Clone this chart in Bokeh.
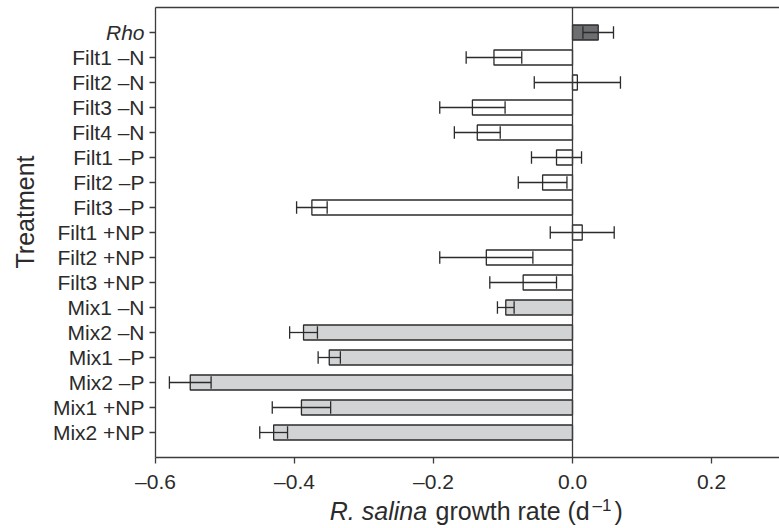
import numpy as np
from bokeh.plotting import figure
from bokeh.models import (ColumnDataSource, Range1d, FixedTicker,
                          CustomJSTickFormatter, Label, LinearAxis)
from bokeh.embed import file_html
from bokeh.resources import INLINE

# ---------------- data ----------------
treatments = ["Rho", "Filt1 \u2013N", "Filt2 \u2013N", "Filt3 \u2013N", "Filt4 \u2013N",
              "Filt1 \u2013P", "Filt2 \u2013P", "Filt3 \u2013P",
              "Filt1 +NP", "Filt2 +NP", "Filt3 +NP",
              "Mix1 \u2013N", "Mix2 \u2013N", "Mix1 \u2013P", "Mix2 \u2013P",
              "Mix1 +NP", "Mix2 +NP"]
growth_rate = [0.037, -0.113, 0.007, -0.144, -0.137, -0.023, -0.043, -0.375,
               0.014, -0.124, -0.071, -0.096, -0.387, -0.350, -0.550, -0.390, -0.430]
std_error = [0.022, 0.040, 0.062, 0.047, 0.033, 0.036, 0.035, 0.022,
             0.046, 0.067, 0.048, 0.012, 0.020, 0.016, 0.030, 0.042, 0.020]
group = ["Rho"] + ["Filt"] * 10 + ["Mix"] * 6
x_ticks = [-0.6, -0.4, -0.2, 0.0, 0.2]
x_min = -0.6

# ---------------- styling / layout ----------------
GROUP_COLORS = {"Rho": "#6d6e71", "Filt": "#ffffff", "Mix": "#d1d3d4"}
INK = "#2b2b2b"
AXIS = "#3c3c3c"
FONT = "Liberation Sans"
TICK_FS = "21px"
TITLE_FS = "25px"
BAR_H = 0.6
CAP = 0.25
LW = 1.3

W, H = 779, 528
AXIS_LEFT_PX, ZERO_PX, TOP_PX, ROW_PX = 155, 572, 7, 25
n = len(treatments)
y_lo, y_hi = -1, n            # data extent of the boxed plot area

PX_PER_X = (ZERO_PX - AXIS_LEFT_PX) / (0 - x_min)
XA = x_min - AXIS_LEFT_PX / PX_PER_X
XB = XA + W / PX_PER_X
YT = y_hi + TOP_PX / ROW_PX
YB = YT - H / ROW_PX


def dx(px):
    return XA + px / PX_PER_X


def dy(py):
    return YT - py / ROW_PX


ypos = [n - 1 - i for i in range(n)]
mean = np.array(growth_rate)
err = np.array(std_error)
src = ColumnDataSource(dict(
    y=ypos, mean=mean, lo=mean - err, hi=mean + err,
    cap0=[v - CAP for v in ypos], cap1=[v + CAP for v in ypos],
    color=[GROUP_COLORS[g] for g in group], name=treatments,
))

p = figure(width=W, height=H, output_backend="svg", toolbar_location=None,
           x_range=Range1d(XA, XB), y_range=Range1d(YB, YT),
           min_border=0, x_axis_location=None, y_axis_location=None)
p.outline_line_color = None
p.grid.visible = False
p.background_fill_color = "white"
p.border_fill_color = "white"

p.hbar(y="y", left=0, right="mean", height=BAR_H, source=src,
       fill_color="color", line_color=INK, line_width=LW)
p.segment(x0="lo", y0="y", x1="hi", y1="y", source=src, line_color=INK, line_width=LW)
p.segment(x0="lo", y0="cap0", x1="lo", y1="cap1", source=src, line_color=INK, line_width=LW)
p.segment(x0="hi", y0="cap0", x1="hi", y1="cap1", source=src, line_color=INK, line_width=LW)


def style_axis(ax):
    ax.axis_line_color = AXIS
    ax.axis_line_width = LW
    ax.major_tick_line_color = AXIS
    ax.major_tick_line_width = LW
    ax.minor_tick_line_color = None
    ax.major_tick_in = 0
    ax.major_tick_out = 6
    ax.major_label_text_font = FONT
    ax.major_label_text_font_size = TICK_FS
    ax.major_label_text_color = INK


# y axis (category rows)
yax = LinearAxis(fixed_location=x_min, bounds=(y_lo, y_hi))
yax.ticker = FixedTicker(ticks=list(range(n)), minor_ticks=[])
yax.major_label_overrides = {ypos[i]: ("" if i == 0 else treatments[i]) for i in range(n)}
yax.major_label_standoff = 5
style_axis(yax)
p.add_layout(yax, "left")

# x axis
xax = LinearAxis(fixed_location=y_lo, bounds=(x_min, XB))
xax.ticker = FixedTicker(ticks=x_ticks, minor_ticks=[])
xax.formatter = CustomJSTickFormatter(code="return tick.toFixed(1).replace('-', '\\u2013');")
xax.major_label_standoff = 6
style_axis(xax)
p.add_layout(xax, "below")

# top border and zero line as bare axis lines
top = LinearAxis(fixed_location=y_hi, bounds=(x_min, XB), ticker=FixedTicker(ticks=[]))
style_axis(top)
top.major_tick_line_color = None
p.add_layout(top, "above")

zero = LinearAxis(fixed_location=0, bounds=(y_lo, y_hi), ticker=FixedTicker(ticks=[]))
style_axis(zero)
zero.major_tick_line_color = None
p.add_layout(zero, "left")

# italic "Rho" tick label
p.add_layout(Label(x=x_min, y=ypos[0], x_offset=-11, text=treatments[0],
                   text_font=FONT, text_font_size=TICK_FS, text_font_style="italic",
                   text_color=INK, text_align="right", text_baseline="middle"))

# y axis title (vertical centre of the glyph box)
p.add_layout(Label(x=dx(24.5), y=dy(211.5), text="Treatment", angle=np.pi / 2,
                   text_font=FONT, text_font_size=TITLE_FS, text_color=INK,
                   text_align="center", text_baseline="middle"))

# x axis title (mixed styles)
mid = dy(510.8)
p.add_layout(Label(x=dx(329.3), y=mid, text="R. salina", text_font=FONT,
                   text_font_size=TITLE_FS, text_font_style="italic", text_color=INK,
                   text_align="left", text_baseline="middle"))
p.add_layout(Label(x=dx(435), y=mid, text="growth rate (d", text_font=FONT,
                   text_font_size=TITLE_FS, text_color=INK,
                   text_align="left", text_baseline="middle"))
p.add_layout(Label(x=dx(592), y=dy(504.5), text="\u20131", text_font=FONT,
                   text_font_size="17px", text_color=INK,
                   text_align="left", text_baseline="middle"))
p.add_layout(Label(x=dx(614), y=mid, text=")", text_font=FONT,
                   text_font_size=TITLE_FS, text_color=INK,
                   text_align="left", text_baseline="middle"))

open("out.html", "w").write(file_html(p, INLINE))
